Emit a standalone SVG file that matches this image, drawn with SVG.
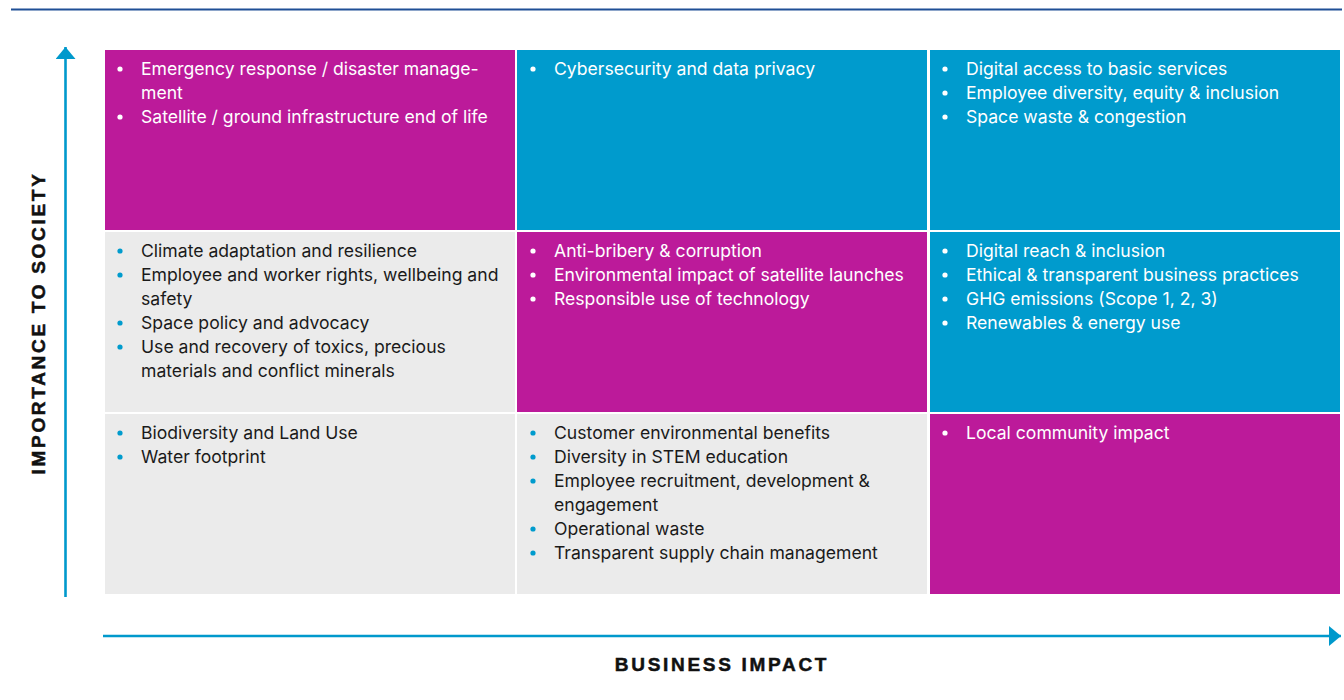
<svg xmlns="http://www.w3.org/2000/svg" width="1344" height="700" viewBox="0 0 1344 700">
  <style>
    .mag { fill: #bc1a9a; }
    .blu { fill: #009bcd; }
    .gry { fill: #ebebeb; }
    .t { font-family: Inter, "Noto Sans", "Liberation Sans", sans-serif; font-size: 17.6px; }
    .onDark { fill: #ffffff; }
    .onLight { fill: #1a1a1a; }
    .dotW { fill: #ffffff; }
    .dotB { fill: #009bcd; }
    .axis { font-family: "Liberation Sans", Arial, sans-serif; font-weight: bold; font-size: 19px; letter-spacing: 2.7px; fill: #111111; stroke: #111111; stroke-width: 0.5px; }
  </style>
  <defs>
    <marker id="arrowHeadBig" viewBox="0 0 12 20" refX="12" refY="10" markerWidth="12" markerHeight="20" markerUnits="userSpaceOnUse" orient="auto">
      <path d="M0,0 L12,10 L0,20 Z" fill="#0099cc"/>
    </marker>
  </defs>

  <rect width="1344" height="700" fill="#ffffff"/>

  <!-- header rule -->
  <line x1="11" y1="9.5" x2="1342" y2="9.5" stroke="#1f4f96" stroke-width="2.2"/>

  <!-- axes -->
  <g id="connectors">
    <line x1="65.5" y1="597" x2="65.5" y2="47" stroke="#0099cc" stroke-width="2.6" marker-end="url(#arrowHeadBig)"/>
    <line x1="103" y1="636" x2="1341" y2="636" stroke="#0099cc" stroke-width="2.6" marker-end="url(#arrowHeadBig)"/>
  </g>

  <text class="axis" x="722" y="671" text-anchor="middle">BUSINESS IMPACT</text>
  <text class="axis" x="0" y="0" text-anchor="middle" transform="translate(45,323) rotate(-90)">IMPORTANCE TO SOCIETY</text>

  <!-- row 1 -->
  <g id="cell-r1c1">
    <rect class="mag" x="105" y="50" width="410" height="180"/>
    <circle class="dotW" cx="120" cy="69" r="2.6"/>
    <text class="t onDark" x="141" y="75">Emergency response / disaster manage-</text>
    <text class="t onDark" x="141" y="99">ment</text>
    <circle class="dotW" cx="120" cy="117" r="2.6"/>
    <text class="t onDark" x="141" y="123">Satellite / ground infrastructure end of life</text>
  </g>
  <g id="cell-r1c2">
    <rect class="blu" x="517" y="50" width="410" height="180"/>
    <circle class="dotW" cx="533" cy="69" r="2.6"/>
    <text class="t onDark" x="554" y="75">Cybersecurity and data privacy</text>
  </g>
  <g id="cell-r1c3">
    <rect class="blu" x="930" y="50" width="410" height="180"/>
    <circle class="dotW" cx="945" cy="69" r="2.6"/>
    <text class="t onDark" x="966" y="75">Digital access to basic services</text>
    <circle class="dotW" cx="945" cy="93" r="2.6"/>
    <text class="t onDark" x="966" y="99">Employee diversity, equity &amp; inclusion</text>
    <circle class="dotW" cx="945" cy="117" r="2.6"/>
    <text class="t onDark" x="966" y="123">Space waste &amp; congestion</text>
  </g>

  <!-- row 2 -->
  <g id="cell-r2c1">
    <rect class="gry" x="105" y="232" width="410" height="180"/>
    <circle class="dotB" cx="120" cy="251" r="2.6"/>
    <text class="t onLight" x="141" y="257">Climate adaptation and resilience</text>
    <circle class="dotB" cx="120" cy="275" r="2.6"/>
    <text class="t onLight" x="141" y="281">Employee and worker rights, wellbeing and</text>
    <text class="t onLight" x="141" y="305">safety</text>
    <circle class="dotB" cx="120" cy="323" r="2.6"/>
    <text class="t onLight" x="141" y="329">Space policy and advocacy</text>
    <circle class="dotB" cx="120" cy="347" r="2.6"/>
    <text class="t onLight" x="141" y="353">Use and recovery of toxics, precious</text>
    <text class="t onLight" x="141" y="377">materials and conflict minerals</text>
  </g>
  <g id="cell-r2c2">
    <rect class="mag" x="517" y="232" width="410" height="180"/>
    <circle class="dotW" cx="533" cy="251" r="2.6"/>
    <text class="t onDark" x="554" y="257">Anti-bribery &amp; corruption</text>
    <circle class="dotW" cx="533" cy="275" r="2.6"/>
    <text class="t onDark" x="554" y="281">Environmental impact of satellite launches</text>
    <circle class="dotW" cx="533" cy="299" r="2.6"/>
    <text class="t onDark" x="554" y="305">Responsible use of technology</text>
  </g>
  <g id="cell-r2c3">
    <rect class="blu" x="930" y="232" width="410" height="180"/>
    <circle class="dotW" cx="945" cy="251" r="2.6"/>
    <text class="t onDark" x="966" y="257">Digital reach &amp; inclusion</text>
    <circle class="dotW" cx="945" cy="275" r="2.6"/>
    <text class="t onDark" x="966" y="281">Ethical &amp; transparent business practices</text>
    <circle class="dotW" cx="945" cy="299" r="2.6"/>
    <text class="t onDark" x="966" y="305">GHG emissions (Scope 1, 2, 3)</text>
    <circle class="dotW" cx="945" cy="323" r="2.6"/>
    <text class="t onDark" x="966" y="329">Renewables &amp; energy use</text>
  </g>

  <!-- row 3 -->
  <g id="cell-r3c1">
    <rect class="gry" x="105" y="414" width="410" height="180"/>
    <circle class="dotB" cx="120" cy="433" r="2.6"/>
    <text class="t onLight" x="141" y="439">Biodiversity and Land Use</text>
    <circle class="dotB" cx="120" cy="457" r="2.6"/>
    <text class="t onLight" x="141" y="463">Water footprint</text>
  </g>
  <g id="cell-r3c2">
    <rect class="gry" x="517" y="414" width="410" height="180"/>
    <circle class="dotB" cx="533" cy="433" r="2.6"/>
    <text class="t onLight" x="554" y="439">Customer environmental benefits</text>
    <circle class="dotB" cx="533" cy="457" r="2.6"/>
    <text class="t onLight" x="554" y="463">Diversity in STEM education</text>
    <circle class="dotB" cx="533" cy="481" r="2.6"/>
    <text class="t onLight" x="554" y="487">Employee recruitment, development &amp;</text>
    <text class="t onLight" x="554" y="511">engagement</text>
    <circle class="dotB" cx="533" cy="529" r="2.6"/>
    <text class="t onLight" x="554" y="535">Operational waste</text>
    <circle class="dotB" cx="533" cy="553" r="2.6"/>
    <text class="t onLight" x="554" y="559">Transparent supply chain management</text>
  </g>
  <g id="cell-r3c3">
    <rect class="mag" x="930" y="414" width="410" height="180"/>
    <circle class="dotW" cx="945" cy="433" r="2.6"/>
    <text class="t onDark" x="966" y="439">Local community impact</text>
  </g>
</svg>
